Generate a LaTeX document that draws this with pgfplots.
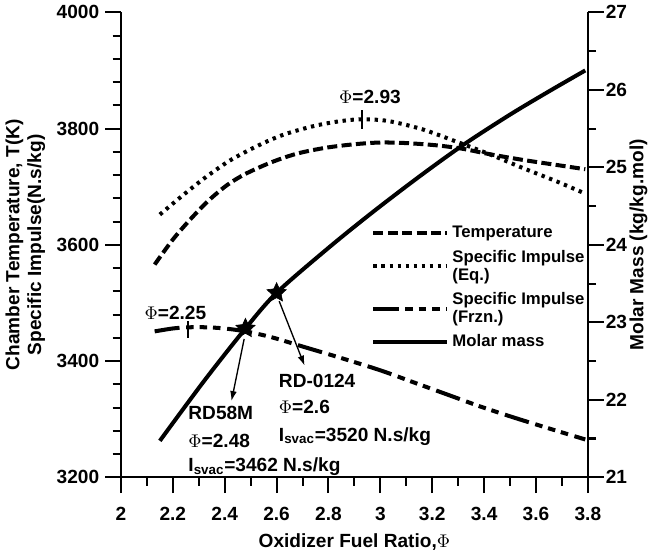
\documentclass[border=0pt]{standalone}
\usepackage{fontspec}
\setmainfont{Liberation Sans}
\usepackage{pgfplots}
\pgfplotsset{compat=1.18}
\usetikzlibrary{arrows.meta}

% filled five-pointed star
\pgfdeclareplotmark{fstar}{%
  \pgfpathmoveto{\pgfpointpolar{90}{\pgfplotmarksize}}%
  \pgfpathlineto{\pgfpointpolar{126}{0.48\pgfplotmarksize}}%
  \pgfpathlineto{\pgfpointpolar{162}{\pgfplotmarksize}}%
  \pgfpathlineto{\pgfpointpolar{198}{0.48\pgfplotmarksize}}%
  \pgfpathlineto{\pgfpointpolar{234}{\pgfplotmarksize}}%
  \pgfpathlineto{\pgfpointpolar{270}{0.48\pgfplotmarksize}}%
  \pgfpathlineto{\pgfpointpolar{306}{\pgfplotmarksize}}%
  \pgfpathlineto{\pgfpointpolar{342}{0.48\pgfplotmarksize}}%
  \pgfpathlineto{\pgfpointpolar{18}{\pgfplotmarksize}}%
  \pgfpathlineto{\pgfpointpolar{54}{0.48\pgfplotmarksize}}%
  \pgfpathclose
  \pgfusepathqfillstroke
}

\newcommand\bigf{\fontsize{11.4}{13}\selectfont\bfseries}
\newcommand\legf{\fontsize{10}{10.5}\selectfont\bfseries}

\pgfplotsset{
  tempstyle/.style={black, line width=2.4pt, dash pattern=on 6pt off 2.6pt},
  eqstyle/.style={black, line width=2.4pt, dash pattern=on 2pt off 2.8pt},
  frznstyle/.style={black, line width=2.4pt, dash pattern=on 15pt off 4pt on 4.5pt off 3.5pt on 4.5pt off 3.5pt on 4.5pt off 4pt},
  molstyle/.style={black, line width=2.4pt},
  common/.style={
    scale only axis, width=279pt, height=277.8pt,
    xmin=2, xmax=3.8,
    tick align=outside, major tick length=9.5pt, minor tick length=5pt,
    every tick/.append style={black, line width=1.2pt},
    axis line style={line width=1.2pt},
    tick label style={font=\bigf},
    label style={font=\bigf},
    /pgf/number format/assume math mode=true,
    /pgf/number format/1000 sep={},
  },
}

\begin{document}
\begin{tikzpicture}
\begin{axis}[common,
  ymin=3200, ymax=4000,
  axis x line*=bottom, axis y line*=left,
  xtick={2,2.2,2.4,2.6,2.8,3,3.2,3.4,3.6,3.8}, minor x tick num=1,
  ytick={3200,3400,3600,3800,4000}, minor y tick num=4,
  xticklabel style={yshift=-5pt},
  xlabel={Oxidizer Fuel Ratio,$\Phi$},
  xlabel style={yshift=-1pt},
  ylabel={Chamber Temperature, T(K)\\Specific Impulse(N.s/kg)},
  ylabel style={align=center},
]
% temperature
\addplot[tempstyle, smooth] coordinates {
 (2.13,3566) (2.20,3609) (2.27,3645) (2.34,3677) (2.41,3703) (2.48,3722)
 (2.58,3742) (2.68,3757) (2.79,3767) (2.90,3773) (3.00,3776) (3.10,3775)
 (3.22,3771) (3.32,3765) (3.42,3756) (3.55,3746) (3.67,3738) (3.79,3730)
};
% specific impulse, equilibrium
\addplot[eqstyle, smooth] coordinates {
 (2.15,3652) (2.23,3682) (2.32,3714) (2.42,3745) (2.53,3771) (2.63,3790)
 (2.75,3805) (2.85,3813) (2.93,3816) (3.03,3813) (3.16,3799)
 (3.29,3778) (3.42,3756) (3.55,3732) (3.68,3709) (3.79,3688)
};
% specific impulse, frozen
\addplot[frznstyle, smooth] coordinates {
 (2.13,3451) (2.20,3456) (2.26,3458) (2.33,3458) (2.40,3456) (2.48,3451)
 (2.58,3441) (2.70,3425) (2.85,3405) (3.00,3384) (3.13,3363) (3.26,3342)
 (3.39,3321) (3.52,3302) (3.65,3284) (3.79,3265)
};
% peak markers
\draw[line width=1.2pt] (axis cs:2.93,3800) -- (axis cs:2.93,3832);
\draw[line width=1.2pt] (axis cs:2.26,3440) -- (axis cs:2.26,3468);
\node[font=\bigf] at (axis cs:2.96,3855) {$\Phi$=2.93};
\node[font=\bigf] at (axis cs:2.21,3483) {$\Phi$=2.25};
% engine annotations
\draw[line width=0.8pt, -{Latex[length=6pt,width=4pt]}] (axis cs:2.475,3438) -- (axis cs:2.426,3331);
\draw[line width=0.8pt, -{Latex[length=6pt,width=4pt]}] (axis cs:2.61,3503) -- (axis cs:2.708,3392);
\node[font=\bigf, anchor=base west, inner sep=0pt] at (axis cs:2.259,3300) {RD58M};
\node[font=\bigf, anchor=base west, inner sep=0pt] at (axis cs:2.259,3251) {$\Phi$=2.48};
\node[font=\bigf, anchor=base west, inner sep=0pt] at (axis cs:2.259,3210) {I\textsubscript{svac}=3462 N.s/kg};
\node[font=\bigf, anchor=base west, inner sep=0pt] at (axis cs:2.608,3354) {RD-0124};
\node[font=\bigf, anchor=base west, inner sep=0pt] at (axis cs:2.608,3309) {$\Phi$=2.6};
\node[font=\bigf, anchor=base west, inner sep=0pt] at (axis cs:2.608,3262) {I\textsubscript{svac}=3520 N.s/kg};
\end{axis}

\begin{axis}[common,
  ymin=21, ymax=27,
  axis x line=none, axis y line*=right,
  ytick={21,22,23,24,25,26,27}, minor y tick num=1,
  yticklabel style={inner sep=1pt},
  ylabel={Molar Mass (kg/kg.mol)},
  ylabel shift=-3pt,
  legend image code/.code={\draw[#1] (0pt,0pt) -- (44pt,0pt);},
  legend style={at={(rel axis cs:0.525,0.555)}, anchor=north west,
    draw=none, fill=none, font=\legf, row sep=2pt,
    nodes={align=left}},
  legend cell align=left,
]
\addlegendimage{tempstyle}
\addlegendentry{Temperature}
\addlegendimage{eqstyle}
\addlegendentry{Specific Impulse\\(Eq.)}
\addlegendimage{frznstyle}
\addlegendentry{Specific Impulse\\(Frzn.)}
\addplot[molstyle, smooth] coordinates {
 (2.15,21.47) (2.32,22.24) (2.48,22.92) (2.60,23.38) (2.80,23.96) (2.97,24.42)
 (3.15,24.88) (3.32,25.29) (3.50,25.68) (3.65,25.98) (3.79,26.25)
};
\addlegendentry{Molar mass}
\addplot[only marks, mark=fstar, mark size=6pt, black, forget plot] coordinates {(2.48,22.92) (2.60,23.38)};
\end{axis}
\end{tikzpicture}
\end{document}
